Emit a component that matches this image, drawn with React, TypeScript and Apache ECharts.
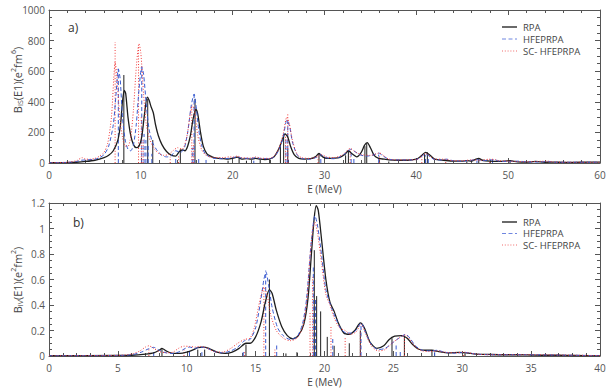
import React, { useEffect, useRef } from "react";
import * as echarts from "echarts";

const seriesNames = ["RPA", "HFEPRPA", "SC- HFEPRPA"];
const xTicksTop = { min: 0, max: 60, interval: 10 };
const yTicksTop = { min: 0, max: 1000, interval: 200 };
const xTicksBot = { min: 0, max: 40, interval: 5 };
const yTicksBot = { min: 0, max: 1.2, interval: 0.2 };

// ---- Top panel (isoscalar) curves [E, B] ----
const topRPA = [
  [0, 2], [2, 3], [3, 5], [4, 10], [5, 18], [6, 35], [6.5, 50], [7, 80], [7.5, 150], [7.8, 260], [8.0, 400], [8.2, 475], [8.35, 455], [8.6, 300], [8.9, 180], [9.2, 120], [9.5, 100], [9.8, 110], [10.1, 170], [10.4, 320], [10.7, 430], [10.9, 410], [11.1, 370], [11.35, 330], [11.6, 250], [11.9, 180], [12.3, 120], [12.8, 75], [13.3, 52], [13.8, 45], [14.2, 75], [14.5, 85], [14.8, 80], [15.1, 110], [15.4, 180], [15.7, 290], [16.0, 350], [16.2, 320], [16.5, 200], [16.8, 110], [17.2, 60], [17.6, 45], [18, 35], [18.5, 30], [19, 28], [19.5, 25], [20, 30], [20.5, 38], [21, 25], [21.5, 28], [22, 25], [22.5, 30], [23, 25], [23.5, 22], [24, 25], [24.5, 40], [25, 90], [25.4, 150], [25.7, 190], [26, 170], [26.3, 110], [26.7, 55], [27.2, 30], [27.8, 25], [28.5, 28], [29, 40], [29.4, 62], [29.8, 40], [30.3, 30], [31, 32], [31.6, 35], [32.2, 55], [32.6, 80], [33, 60], [33.5, 40], [34, 70], [34.35, 115], [34.65, 133], [35, 100], [35.4, 50], [35.9, 30], [36.5, 25], [37, 20], [38, 18], [39, 18], [40, 25], [40.5, 45], [41, 70], [41.5, 50], [42, 25], [43, 18], [44, 12], [45, 12], [45.5, 16], [46, 12], [46.5, 25], [46.8, 30], [47.2, 18], [48, 12], [49, 10], [50.2, 15], [51, 8], [52, 6], [53, 10], [54, 5], [55, 6], [56, 4], [58, 5], [60, 6],
];
const topHF = [
  [0, 2], [2, 4], [3, 10], [3.5, 18], [4, 20], [5, 25], [5.5, 35], [6, 55], [6.5, 110], [7.0, 250], [7.3, 450], [7.55, 615], [7.75, 550], [8.0, 300], [8.3, 150], [8.6, 90], [8.9, 80], [9.2, 120], [9.5, 250], [9.8, 480], [10.1, 630], [10.3, 580], [10.6, 380], [10.9, 220], [11.3, 130], [11.8, 80], [12.3, 50], [12.8, 40], [13.3, 45], [13.8, 80], [14.3, 70], [14.7, 90], [15.1, 200], [15.5, 380], [15.8, 450], [16.0, 380], [16.3, 220], [16.6, 120], [17, 60], [17.5, 40], [18, 30], [19, 28], [19.5, 30], [20, 35], [20.5, 40], [21, 32], [22, 30], [22.5, 35], [23, 30], [24, 28], [24.5, 40], [25, 80], [25.5, 170], [25.9, 280], [26.2, 240], [26.5, 140], [27, 55], [27.5, 30], [28.5, 25], [29.2, 40], [29.6, 55], [30, 40], [30.5, 30], [31, 28], [31.5, 35], [32.2, 60], [32.9, 90], [33.3, 75], [33.8, 55], [34.5, 45], [35.2, 50], [35.9, 65], [36.4, 45], [37, 25], [38, 20], [39, 20], [40, 22], [40.5, 40], [41, 60], [41.5, 40], [42, 22], [42.8, 20], [43.3, 25], [44, 15], [45, 12], [46, 18], [46.6, 22], [47.2, 15], [48, 20], [48.5, 22], [49, 12], [50, 10], [51, 12], [52, 8], [53, 6], [54.5, 10], [55, 5], [57, 5], [60, 5],
];
const topSC = [
  [0, 2], [2, 5], [3, 15], [3.6, 35], [4, 25], [4.5, 25], [5, 30], [5.5, 45], [6, 70], [6.4, 130], [6.8, 300], [7.05, 550], [7.2, 660], [7.4, 560], [7.7, 300], [8.0, 170], [8.3, 110], [8.6, 110], [8.9, 170], [9.2, 350], [9.5, 620], [9.8, 780], [10.0, 720], [10.3, 450], [10.6, 250], [11, 150], [11.5, 90], [12, 60], [12.5, 50], [13, 55], [13.5, 80], [14, 100], [14.5, 90], [15, 170], [15.4, 330], [15.65, 380], [15.9, 320], [16.2, 180], [16.6, 90], [17, 55], [17.5, 40], [18, 35], [19, 35], [19.6, 40], [20, 38], [20.5, 45], [21, 35], [22, 32], [22.5, 40], [23, 32], [24, 30], [24.5, 45], [25, 90], [25.5, 190], [25.9, 300], [26.2, 250], [26.5, 150], [27, 60], [27.5, 35], [28.5, 30], [29.3, 45], [29.7, 55], [30.2, 40], [31, 35], [32, 55], [32.8, 95], [33.3, 75], [34, 55], [35, 50], [36, 65], [36.5, 45], [37, 25], [38, 20], [40, 22], [40.6, 45], [41, 62], [41.6, 40], [42, 25], [43, 25], [44, 15], [45, 15], [46, 20], [47, 18], [48, 25], [48.6, 22], [49, 15], [50, 12], [51, 10], [52, 8], [54.3, 12], [55, 6], [57, 5], [60, 5],
];
// top stick spectra [E, B]
const topRPASticks = [
  [8.15, 575], [10.75, 420], [11.3, 150], [14.3, 90], [15.9, 418], [19.5, 15], [20.7, 30], [21.5, 15], [23, 20], [24.1, 20], [25.2, 120], [25.55, 190], [26.0, 90], [29.4, 60], [32.3, 50], [32.6, 80], [34.4, 110], [34.6, 130], [37, 10], [40.9, 60], [41.2, 70], [45.5, 10], [46.8, 30], [50.2, 12],
];
const topHFSticks = [
  [7.55, 615], [10.1, 620], [10.35, 190], [10.55, 150], [10.8, 120], [11.2, 60], [13.8, 35], [15.6, 100], [15.8, 450], [16.3, 40], [17.1, 20], [22.3, 15], [25.8, 160], [26.0, 290], [29.6, 50], [32.9, 85], [33.2, 40], [35.9, 55], [41.0, 50], [41.3, 40], [46.6, 15], [48.3, 20],
];
const topSCSticks = [
  [7.2, 790], [9.75, 760], [10.05, 300], [10.25, 150], [13.2, 40], [14.1, 50], [15.55, 370], [15.75, 130], [25.75, 200], [26.0, 320], [29.3, 40], [32.8, 90], [36.0, 55], [40.6, 40], [43.2, 20], [48.0, 22], [54.3, 10],
];

// ---- Bottom panel (isovector) curves [E, B] ----
const botRPA = [
  [0, 0.003], [5, 0.004], [6, 0.006], [7, 0.015], [7.6, 0.025], [8.0, 0.045], [8.2, 0.06], [8.5, 0.04], [9.0, 0.02], [9.5, 0.02], [10, 0.03], [10.5, 0.05], [10.8, 0.065], [11.2, 0.07], [11.6, 0.06], [12.2, 0.03], [12.8, 0.02], [13.3, 0.03], [13.8, 0.06], [14.3, 0.1], [14.6, 0.1], [15.0, 0.15], [15.4, 0.27], [15.7, 0.42], [16.0, 0.52], [16.2, 0.49], [16.5, 0.36], [16.9, 0.23], [17.3, 0.16], [17.7, 0.135], [18.1, 0.16], [18.5, 0.25], [18.8, 0.45], [19.05, 0.8], [19.25, 1.08], [19.4, 1.18], [19.55, 1.14], [19.8, 0.9], [20.1, 0.6], [20.4, 0.42], [20.7, 0.35], [21.0, 0.26], [21.4, 0.18], [21.8, 0.17], [22.2, 0.2], [22.6, 0.26], [22.9, 0.22], [23.3, 0.11], [23.8, 0.06], [24.3, 0.08], [24.7, 0.13], [25.1, 0.155], [25.6, 0.16], [26.0, 0.14], [26.4, 0.09], [26.8, 0.055], [27.3, 0.045], [27.8, 0.045], [28.3, 0.035], [29, 0.025], [29.8, 0.028], [30.3, 0.025], [31, 0.015], [32, 0.012], [33, 0.01], [34, 0.01], [35, 0.008], [36, 0.006], [37, 0.006], [38, 0.004], [40, 0.003],
];
const botHF = [
  [0, 0.002], [5, 0.004], [6, 0.01], [6.7, 0.03], [7.2, 0.055], [7.6, 0.068], [8, 0.045], [8.5, 0.025], [9, 0.02], [9.5, 0.035], [9.9, 0.06], [10.2, 0.07], [10.6, 0.06], [11, 0.07], [11.5, 0.06], [12, 0.035], [12.6, 0.025], [13.2, 0.04], [13.7, 0.07], [14.2, 0.12], [14.6, 0.13], [15.0, 0.22], [15.35, 0.42], [15.6, 0.6], [15.75, 0.66], [15.95, 0.55], [16.2, 0.38], [16.6, 0.22], [17, 0.16], [17.5, 0.13], [18, 0.15], [18.4, 0.25], [18.7, 0.45], [19.0, 0.85], [19.2, 1.05], [19.3, 1.1], [19.5, 1.02], [19.8, 0.78], [20.1, 0.52], [20.5, 0.38], [20.8, 0.3], [21.2, 0.21], [21.6, 0.18], [22.0, 0.18], [22.35, 0.21], [22.65, 0.26], [23.0, 0.18], [23.4, 0.09], [23.9, 0.05], [24.4, 0.06], [24.9, 0.1], [25.4, 0.14], [25.9, 0.17], [26.2, 0.14], [26.6, 0.08], [27.1, 0.045], [27.7, 0.04], [28.2, 0.045], [28.7, 0.03], [29.5, 0.022], [30.2, 0.028], [31, 0.015], [32, 0.01], [34.5, 0.01], [37, 0.007], [40, 0.003],
];
const botSC = [
  [0, 0.002], [5, 0.005], [6, 0.015], [6.6, 0.04], [7.0, 0.07], [7.25, 0.08], [7.6, 0.06], [8, 0.035], [8.5, 0.025], [9, 0.03], [9.4, 0.06], [9.8, 0.077], [10.2, 0.075], [10.6, 0.07], [11, 0.075], [11.4, 0.065], [12, 0.035], [12.6, 0.03], [13.2, 0.06], [13.7, 0.1], [14.2, 0.13], [14.6, 0.14], [14.9, 0.22], [15.2, 0.38], [15.45, 0.5], [15.6, 0.54], [15.85, 0.47], [16.1, 0.32], [16.5, 0.2], [17, 0.14], [17.5, 0.12], [18, 0.14], [18.4, 0.22], [18.7, 0.42], [18.95, 0.78], [19.15, 1.0], [19.3, 1.05], [19.5, 0.96], [19.8, 0.72], [20.1, 0.48], [20.4, 0.4], [20.7, 0.3], [21.1, 0.22], [21.5, 0.2], [21.9, 0.17], [22.3, 0.19], [22.65, 0.25], [23.0, 0.17], [23.4, 0.08], [23.9, 0.04], [24.4, 0.05], [24.9, 0.1], [25.4, 0.14], [25.85, 0.165], [26.2, 0.13], [26.6, 0.07], [27.1, 0.04], [27.6, 0.035], [28.1, 0.04], [28.7, 0.03], [29.5, 0.025], [30.1, 0.03], [31, 0.015], [32, 0.01], [34.5, 0.01], [37, 0.008], [40, 0.003],
];
const botRPASticks = [
  [8.2, 0.06], [10.8, 0.05], [11.3, 0.05], [14.3, 0.09], [16.0, 0.6], [17.2, 0.02], [18.0, 0.03], [19.26, 0.83], [19.43, 0.47], [19.72, 0.35], [20.2, 0.15], [20.7, 0.08], [21.8, 0.1], [22.6, 0.2], [24.9, 0.14], [25.8, 0.15], [27.8, 0.04], [30.2, 0.02],
];
const botHFSticks = [
  [7.6, 0.05], [10.2, 0.04], [11.1, 0.03], [14.1, 0.05], [15.73, 0.67], [16.53, 0.085], [19.19, 0.7], [19.35, 0.45], [20.6, 0.14], [22.65, 0.24], [25.2, 0.1], [25.5, 0.05], [28.0, 0.03],
];
const botSCSticks = [
  [7.25, 0.06], [9.8, 0.05], [14.2, 0.04], [15.6, 0.55], [16.4, 0.05], [18.95, 0.34], [19.14, 0.62], [20.47, 0.24], [21.5, 0.15], [22.6, 0.2], [25.8, 0.16], [30.1, 0.02],
];

const FONT = "Open Sans";
const AXIS_COLOR = "#555";
const LABEL_COLOR = "#555";
const styles = [
  { color: "#1e1e1e", type: "solid" as any, width: 1.3, dash: null as number[] | null, legendColor: "#6a6a6a", legendWidth: 2 },
  { color: "#3a5bd0", type: [4, 2.5] as any, width: 1, dash: [4, 2.5], legendColor: "#6f86e0", legendWidth: 1 },
  { color: "#f03c3c", type: [1, 1.8] as any, width: 1, dash: [1, 1.8], legendColor: "#f06a6a", legendWidth: 1 },
];

function makeX(gridIndex: number, t: { min: number; max: number; interval: number }, bottom: boolean, minorSplit: number) {
  return {
    type: "value",
    gridIndex,
    position: bottom ? "bottom" : "top",
    min: t.min,
    max: t.max,
    interval: t.interval,
    name: bottom ? "E (MeV)" : "",
    nameLocation: "middle",
    nameGap: 21,
    nameTextStyle: { fontFamily: FONT, fontSize: 10, color: "#444", lineHeight: 10 },
    axisLine: { show: true, onZero: false, lineStyle: { color: AXIS_COLOR, width: 1 } },
    axisTick: { show: true, inside: true, length: 5, lineStyle: { color: AXIS_COLOR } },
    minorTick: { show: true, splitNumber: minorSplit, length: 3, lineStyle: { color: AXIS_COLOR } },
    axisLabel: { show: bottom, margin: 7, fontFamily: FONT, fontSize: 10, lineHeight: 10, color: LABEL_COLOR, formatter: (v: number) => String(v) },
    splitLine: { show: false },
  };
}
function makeY(gridIndex: number, t: { min: number; max: number; interval: number }, left: boolean) {
  return {
    type: "value",
    gridIndex,
    position: left ? "left" : "right",
    min: t.min,
    max: t.max,
    interval: t.interval,
    axisLine: { show: true, onZero: false, lineStyle: { color: AXIS_COLOR, width: 1 } },
    axisTick: { show: true, inside: true, length: 5, lineStyle: { color: AXIS_COLOR } },
    minorTick: { show: true, splitNumber: 4, length: 3, lineStyle: { color: AXIS_COLOR } },
    axisLabel: {
      show: left, margin: 4, fontFamily: FONT, fontSize: 10, color: LABEL_COLOR,
      formatter: (v: number) => String(Math.round(v * 1000) / 1000),
    },
    splitLine: { show: false },
  };
}

function lineSeries(name: string, data: number[][], idx: number, axis: number) {
  const s = styles[idx];
  return {
    type: "line",
    name,
    data,
    xAxisIndex: axis,
    yAxisIndex: axis,
    symbol: "none",
    showSymbol: false,
    smooth: 0.25,
    lineStyle: { color: s.color, width: s.width, type: s.type },
    itemStyle: { color: s.color },
    z: 3,
  };
}
function stickSeries(name: string, data: number[][], idx: number, axis: number) {
  const s = styles[idx];
  return {
    type: "custom",
    name,
    data,
    xAxisIndex: axis,
    yAxisIndex: axis,
    coordinateSystem: "cartesian2d",
    renderItem: (_p: any, api: any) => {
      const x = api.value(0);
      const h = api.value(1);
      const p0 = api.coord([x, 0]);
      const p1 = api.coord([x, h]);
      return {
        type: "line",
        shape: { x1: p0[0], y1: p0[1], x2: p1[0], y2: p1[1] },
        style: { stroke: s.color, lineWidth: 1, lineDash: s.dash || undefined },
      };
    },
    z: 2,
  };
}

function yTitle(sub: string, sup: string, x: number, y: number) {
  return {
    type: "text",
    x,
    y,
    rotation: Math.PI / 2,
    style: {
      text: `{n|B}{s|${sub}}{n|(E1)(e}{p|2}{n|fm}{p|${sup}}{n|)}`,
      fontFamily: FONT,
      align: "center",
      verticalAlign: "middle",
      fill: "#444",
      rich: {
        n: { fontSize: 11, fontFamily: FONT, fill: "#444", lineHeight: 14, verticalAlign: "middle" },
        s: { fontSize: 7, fontFamily: FONT, fill: "#444", lineHeight: 14, verticalAlign: "bottom", padding: [4, 0, 0, 0] },
        p: { fontSize: 7, fontFamily: FONT, fill: "#444", lineHeight: 14, verticalAlign: "top", padding: [0, 0, 5, 0] },
      },
    },
  };
}

function legendGraphics(rowsY: number[]) {
  const out: any[] = [];
  seriesNames.forEach((n, i) => {
    const s = styles[i];
    const y = rowsY[i];
    out.push({
      type: "line",
      shape: { x1: 502, y1: y, x2: 517, y2: y },
      style: { stroke: s.legendColor, lineWidth: s.legendWidth, lineDash: s.dash || undefined },
    });
    out.push({
      type: "text",
      x: 523,
      y,
      style: { text: n, fontFamily: FONT, fontSize: 9.5, lineHeight: 10, fill: "#444", verticalAlign: "middle", align: "left" },
    });
  });
  return out;
}

export default function App() {
  const ref = useRef<HTMLDivElement>(null);
  useEffect(() => {
    if (!ref.current) return;
    const chart = echarts.init(ref.current, null, { renderer: "svg" });
    chart.setOption({
      animation: false,
      backgroundColor: "#fff",
      grid: [
        { left: 49, top: 10, width: 551, height: 153 },
        { left: 49, top: 203, width: 551, height: 153 },
      ],
      xAxis: [
        makeX(0, xTicksTop, true, 5),
        makeX(0, xTicksTop, false, 5),
        makeX(1, xTicksBot, true, 5),
        makeX(1, xTicksBot, false, 5),
      ],
      yAxis: [
        makeY(0, yTicksTop, true),
        makeY(0, yTicksTop, false),
        makeY(1, yTicksBot, true),
        makeY(1, yTicksBot, false),
      ],
      graphic: [
        yTitle("IS", "6", 17, 80),
        yTitle("IV", "2", 17, 280),
        { type: "text", left: 68, top: 21, style: { text: "a)", fontFamily: FONT, fontSize: 12, fill: "#333" } },
        { type: "text", left: 73, top: 216, style: { text: "b)", fontFamily: FONT, fontSize: 12, fill: "#333" } },
        ...legendGraphics([27, 39, 51]),
        ...legendGraphics([222, 233.5, 245]),
      ],
      series: [
        stickSeries("s0", topRPASticks, 0, 0),
        stickSeries("s1", topHFSticks, 1, 0),
        stickSeries("s2", topSCSticks, 2, 0),
        lineSeries(seriesNames[0], topRPA, 0, 0),
        lineSeries(seriesNames[1], topHF, 1, 0),
        lineSeries(seriesNames[2], topSC, 2, 0),
        stickSeries("s3", botRPASticks, 0, 2),
        stickSeries("s4", botHFSticks, 1, 2),
        stickSeries("s5", botSCSticks, 2, 2),
        lineSeries(seriesNames[0], botRPA, 0, 2),
        lineSeries(seriesNames[1], botHF, 1, 2),
        lineSeries(seriesNames[2], botSC, 2, 2),
      ],
    });
    return () => chart.dispose();
  }, []);
  return <div ref={ref} style={{ width: 610, height: 392, position: "absolute", left: 0, top: 0 }} />;
}
